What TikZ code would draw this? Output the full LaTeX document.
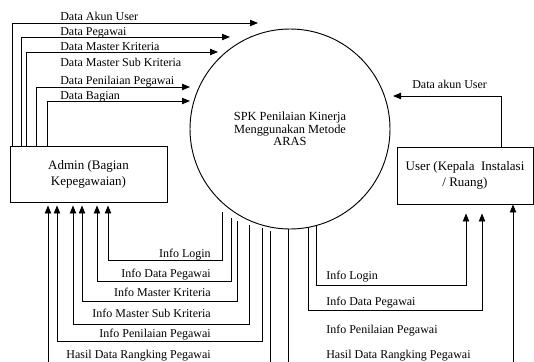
\documentclass[tikz,border=0pt]{standalone}
\usepackage{fontspec}
\setmainfont{Liberation Serif}
\usetikzlibrary{arrows.meta,calc}

\begin{document}
\begin{tikzpicture}[x=0.75pt,y=-0.75pt,
  line/.style={draw, line width=0.7pt},
  flow/.style={line, -{Triangle[length=6pt,width=4.8pt]}},
  entity/.style={draw, line width=0.7pt, inner sep=0pt, align=center,
    font=\fontsize{9.75}{12}\selectfont},
  process/.style={circle, draw, line width=0.7pt, inner sep=0pt,
    minimum size=150pt, align=center, font=\fontsize{9.3}{9.4}\selectfont},
  lbl/.style={inner sep=0pt, font=\fontsize{9}{10}\selectfont}]

\useasboundingbox (0,0) rectangle (534,361);
\clip (0,0) rectangle (534,361);

% process and external entities
\node[process] (spk) at (290,129) {SPK Penilaian Kinerja\\Menggunakan Metode\\ARAS};
\node[entity, minimum width=117.75pt, minimum height=42pt] (admin) at (88.5,174)
  {Admin (Bagian\\Kepegawaian)};
\node[entity, minimum width=102pt, minimum height=42.75pt] (user) at (465,175.5)
  {User (Kepala~~Instalasi\\/ Ruang)};

% admin -> process
\coordinate (t1) at (12,23);  \coordinate (e1) at (258,23);
\coordinate (t2) at (21,37);  \coordinate (e2) at (230,37);
\coordinate (t3) at (26,52);  \coordinate (e3) at (218,52);
\coordinate (t4) at (36,87);  \coordinate (e4) at (190,87);
\coordinate (t5) at (47,101); \coordinate (e5) at (190,101);
\draw[flow] (admin.north -| t1) -- (t1) -- (e1);
\draw[flow] (admin.north -| t2) -- (t2) -- (e2);
\draw[flow] (admin.north -| t3) -- (t3) -- (e3);
\draw[flow] (admin.north -| t4) -- (t4) -- (e4);
\draw[flow] (admin.north -| t5) -- (t5) -- (e5);

\node[lbl, anchor=base west] (l1) at (60,20) {Data Akun User};
\node[lbl, anchor=base west] (l2) at (60,35) {Data Pegawai};
\node[lbl, anchor=base west] (l3) at (60,50) {Data Master Kriteria};
\node[lbl, anchor=base west] (l4) at (60,66) {Data Master Sub Kriteria};
\node[lbl, anchor=base west] (l5) at (60,84) {Data Penilaian Pegawai};
\node[lbl, anchor=base west] (l6) at (60,99) {Data Bagian};

% user -> process
\coordinate (u1) at (501,96); \coordinate (f1) at (393,96);
\draw[flow] (user.north -| u1) -- (u1) -- (f1);
\node[lbl, anchor=base west] (l7) at (412,88) {Data akun User};

% process -> admin
\coordinate (s1) at ($(spk.center)+(-68,83)$);
\coordinate (s2) at ($(spk.center)+(-59,89)$);
\coordinate (s3) at ($(spk.center)+(-53,92)$);
\coordinate (s4) at ($(spk.center)+(-41,96)$);
\coordinate (s5) at ($(spk.center)+(-28,99)$);
\coordinate (s6) at ($(spk.center)+(-20,102)$);
\coordinate (h1) at (108,260);
\coordinate (h2) at (97,281);
\coordinate (h3) at (82,301);
\coordinate (h4) at (73,324);
\coordinate (h5) at (57,341);
\coordinate (h6) at (48,372);
\foreach \i in {1,...,6}
  \draw[flow, shorten >=2.25pt] (s\i) |- (h\i) -- (admin.south -| h\i);

\node[lbl, anchor=base east] (b1) at (211,257) {Info Login};
\node[lbl, anchor=base east] (b2) at (211,277) {Info Data Pegawai};
\node[lbl, anchor=base east] (b3) at (211,296) {Info Master Kriteria};
\node[lbl, anchor=base east] (b4) at (211,317) {Info Master Sub Kriteria};
\node[lbl, anchor=base east] (b5) at (211,337) {Info Penilaian Pegawai};
\node[lbl, anchor=base east] (b6) at (211,358) {Hasil Data Rangking Pegawai};

% process -> user
\coordinate (s7) at ($(spk.center)+(26,96)$);
\coordinate (s8) at ($(spk.center)+(18,98)$);
\coordinate (s9) at ($(spk.center)+(-2,100)$);
\coordinate (k7) at (466,285);
\coordinate (k8) at (482,310);
\coordinate (k9) at (513,372);
\draw[flow, shorten >=6.75pt] (s7) |- (k7) -- (user.south -| k7);
\draw[flow, shorten >=6.75pt] (s8) |- (k8) -- (user.south -| k8);
\draw[flow] (s9) |- (k9) -- (user.south -| k9);

\node[lbl, anchor=base west] (r1) at (326,279) {Info Login};
\node[lbl, anchor=base west] (r2) at (326,305) {Info Data Pegawai};
\node[lbl, anchor=base west] (r3) at (326,333) {Info Penilaian Pegawai};
\node[lbl, anchor=base west] (r4) at (326,358) {Hasil Data Rangking Pegawai};
\end{tikzpicture}
\end{document}
